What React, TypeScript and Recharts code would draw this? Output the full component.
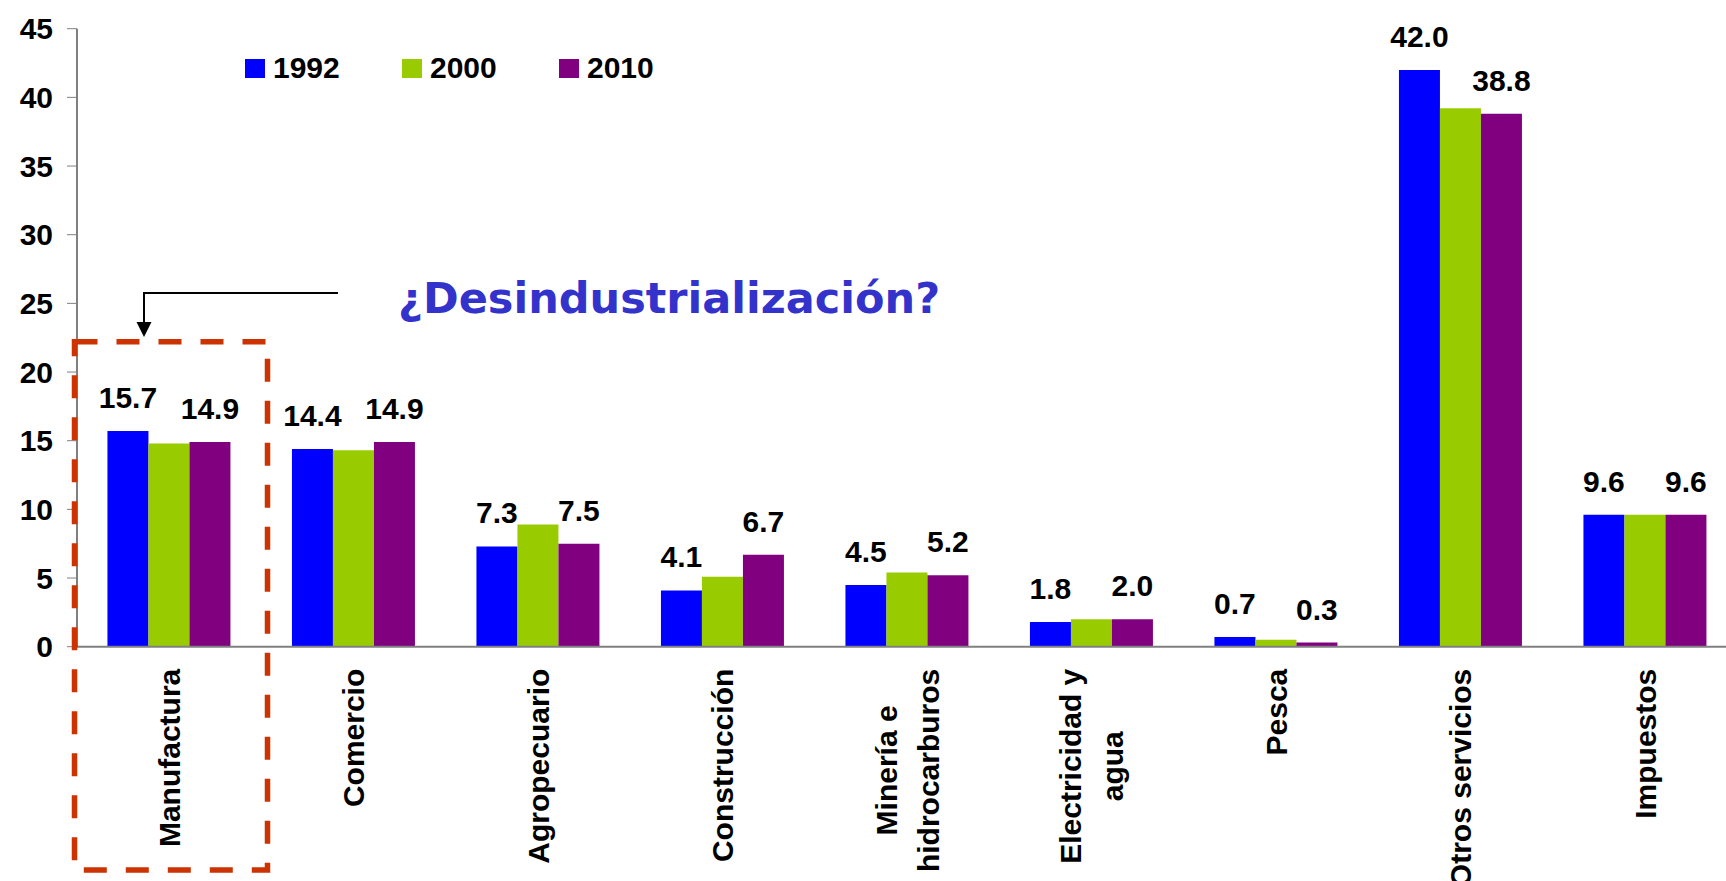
import React from "react";
import { BarChart, Bar, XAxis, YAxis, Legend, LabelList } from "recharts";

const categories = [
  "Manufactura",
  "Comercio",
  "Agropecuario",
  "Construcción",
  "Minería e\nhidrocarburos",
  "Electricidad y\nagua",
  "Pesca",
  "Otros servicios",
  "Impuestos",
];
const v1992 = [15.7, 14.4, 7.3, 4.1, 4.5, 1.8, 0.7, 42.0, 9.6];
const v2000 = [14.8, 14.3, 8.9, 5.1, 5.4, 2.0, 0.5, 39.2, 9.6];
const v2010 = [14.9, 14.9, 7.5, 6.7, 5.2, 2.0, 0.3, 38.8, 9.6];
const yTicks = [0, 5, 10, 15, 20, 25, 30, 35, 40, 45];
const edgeTicks = [1, 2, 3, 4, 5, 6, 7, 8];
const annotation = "¿Desindustrialización?";

const series = [
  { key: "y1992", name: "1992", color: "#0000FF", labelled: true },
  { key: "y2000", name: "2000", color: "#99CC00", labelled: false },
  { key: "y2010", name: "2010", color: "#800080", labelled: true },
];

const data = categories.map((name, i) => ({
  name,
  y1992: v1992[i],
  y2000: v2000[i],
  y2010: v2010[i],
}));

const FONT = "'Liberation Sans', Arial, sans-serif";

let ctx: CanvasRenderingContext2D | null = null;
function textWidth(s: string) {
  if (!ctx) ctx = document.createElement("canvas").getContext("2d");
  if (!ctx) return s.length * 16;
  ctx.font = `bold 30px ${FONT}`;
  return ctx.measureText(s).width;
}

// rotated category labels, lines centred on the longest one
function CategoryTick(props: any) {
  const { x, y, payload } = props;
  const lines = String(payload.value).split("\n");
  const maxW = Math.max(...lines.map(textWidth));
  const cy = y + 22 + maxW / 2;
  return (
    <g>
      {lines.map((ln, i) => {
        const lx = x + (i - (lines.length - 1) / 2) * 42 + 10.7;
        return (
          <text
            key={i}
            x={lx}
            y={cy}
            transform={`rotate(-90 ${lx} ${cy})`}
            textAnchor="middle"
            fontFamily={FONT}
            fontWeight="bold"
            fontSize={30}
            fill="#000"
          >
            {ln}
          </text>
        );
      })}
    </g>
  );
}

function LegendContent(props: any) {
  const items = props.payload ?? [];
  return (
    <div style={{ display: "flex" }}>
      {items.map((it: any) => (
        <div key={it.value} style={{ width: 157, height: 34, display: "flex", alignItems: "center" }}>
          <span style={{ width: 20, height: 19, background: it.color, marginRight: 8, display: "inline-block" }} />
          <span style={{ font: `bold 30px ${FONT}`, color: "#000" }}>{it.value}</span>
        </div>
      ))}
    </div>
  );
}

export default function App() {
  return (
    <div style={{ position: "fixed", left: 0, top: 0, width: 1726, height: 881, overflow: "hidden", background: "#fff" }}>
      <BarChart
        width={1745}
        height={881}
        data={data}
        margin={{ top: 28.7, right: 7.5, bottom: 232.3, left: 0 }}
        barCategoryGap="16.5%"
        barGap={0}
      >
        <XAxis
          dataKey="name"
          height={1}
          interval={0}
          tickLine={false}
          tickSize={0}
          tickMargin={0}
          axisLine={{ stroke: "#808080", strokeWidth: 2 }}
          tick={<CategoryTick />}
        />
        <XAxis
          xAxisId="edges"
          type="number"
          domain={[0, 9]}
          ticks={edgeTicks}
          height={1}
          axisLine={false}
          tick={false}
          tickSize={10}
          tickLine={{ stroke: "#404040" }}
        />
        <YAxis
          width={77}
          domain={[0, 45]}
          ticks={yTicks}
          interval={0}
          axisLine={{ stroke: "#000", strokeWidth: 1 }}
          tickLine={{ stroke: "#808080" }}
          tickSize={10}
          tickMargin={14}
          tick={{ fill: "#000", fontSize: 30, fontWeight: "bold", fontFamily: FONT }}
        />
        <Legend
          layout="horizontal"
          verticalAlign="middle"
          align="center"
          wrapperStyle={{ top: 51, left: 245, width: 480 }}
          content={<LegendContent />}
        />
        {series.map(s => (
          <Bar key={s.key} dataKey={s.key} name={s.name} fill={s.color} isAnimationActive={false}>
            {s.labelled && (
              <LabelList
                dataKey={s.key}
                position="top"
                offset={23}
                formatter={(v: any) => Number(v).toFixed(1)}
                fill="#000"
                fontSize={30}
                fontWeight="bold"
                fontFamily={FONT}
              />
            )}
          </Bar>
        ))}
      </BarChart>
      <svg width={1726} height={881} style={{ position: "absolute", left: 0, top: 0, pointerEvents: "none" }}>
        <rect x={74.5} y={341.7} width={193} height={528.3} fill="none" stroke="#CC3300" strokeWidth={5.5} strokeDasharray="23 19" />
        <polyline points="338,293 144,293 144,323" fill="none" stroke="#000" strokeWidth={2} />
        <polygon points="136.5,322 151.5,322 144,337" fill="#000" />
        <text x={398} y={313} fontFamily="'DejaVu Sans', Verdana, sans-serif" fontWeight="bold" fontSize={43} fill="#3333CC">
          {annotation}
        </text>
      </svg>
    </div>
  );
}
